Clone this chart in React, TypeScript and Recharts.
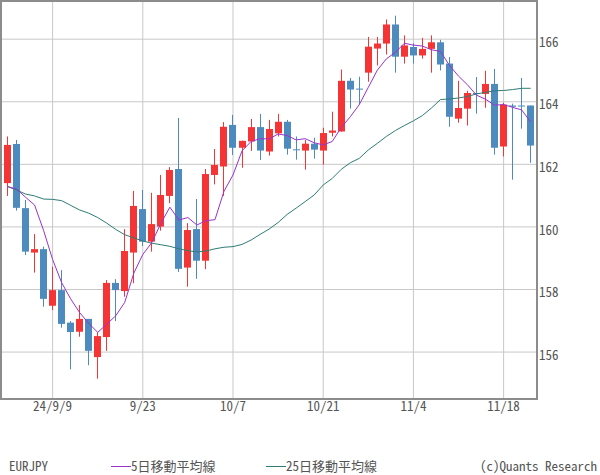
import React from "react";
import {
  ComposedChart,
  Bar,
  Line,
  XAxis,
  YAxis,
  CartesianGrid,
  ReferenceArea,
} from "recharts";

// EURJPY daily candles, 24/9/2 .. 24/11/21
const OPEN = [
  161.40, 162.65, 160.60, 159.18, 159.29, 157.48, 157.98, 156.94, 156.65, 157.06,
  155.84, 156.48, 158.21, 157.95, 159.18, 160.57, 159.53, 160.01, 160.99, 161.85,
  158.70, 159.93, 158.92, 161.66, 161.93, 163.26, 162.53, 162.73, 163.19, 162.41,
  162.99, 163.36, 162.48, 162.44, 162.66, 162.44, 163.01, 163.05, 164.67, 164.42,
  164.93, 165.70, 165.86, 166.47, 165.44, 165.75, 165.48, 165.69, 165.90, 165.22,
  163.46, 163.78, 164.28, 164.25, 164.57, 162.57, 163.88, 163.88, 163.88,
];
const HIGH = [
  162.89, 162.78, 160.86, 159.77, 159.37, 158.73, 158.62, 156.99, 157.50, 157.06,
  156.63, 158.30, 158.33, 159.93, 161.15, 161.18, 161.09, 161.66, 161.91, 163.48,
  160.12, 160.89, 161.85, 162.49, 163.35, 163.58, 162.76, 163.45, 163.61, 163.42,
  163.61, 163.42, 162.89, 162.78, 162.85, 163.17, 163.68, 165.03, 164.76, 164.80,
  166.07, 166.07, 166.63, 166.75, 166.12, 165.87, 166.04, 166.12, 165.98, 165.43,
  164.67, 164.35, 164.79, 164.99, 165.05, 163.97, 163.94, 164.76, 163.88,
];
const LOW = [
  160.99, 160.52, 159.10, 158.54, 157.45, 157.34, 156.78, 155.45, 156.49, 155.58,
  155.15, 156.04, 156.99, 157.77, 158.20, 159.39, 159.21, 159.88, 160.76, 158.56,
  158.09, 158.34, 158.65, 161.36, 160.99, 162.30, 161.89, 162.43, 162.14, 162.28,
  162.89, 162.31, 162.15, 161.83, 162.18, 161.99, 162.89, 163.04, 163.78, 163.91,
  164.64, 165.16, 165.51, 164.93, 165.22, 165.22, 165.38, 164.93, 165.00, 163.20,
  163.33, 163.24, 163.62, 163.81, 162.31, 162.25, 161.51, 163.14, 162.05,
];
const CLOSE = [
  162.62, 160.61, 159.21, 159.29, 157.70, 157.98, 156.90, 156.64, 157.06, 156.04,
  156.51, 158.21, 157.98, 159.23, 160.67, 159.53, 160.09, 161.02, 161.82, 158.66,
  159.90, 158.92, 161.69, 161.98, 163.20, 162.53, 162.75, 163.19, 162.44, 163.13,
  163.36, 162.50, 162.45, 162.66, 162.47, 163.00, 163.08, 164.67, 164.39, 164.39,
  165.76, 165.86, 166.47, 165.44, 165.80, 165.48, 165.69, 165.90, 165.19, 163.52,
  163.80, 164.28, 164.25, 164.57, 162.53, 163.91, 163.84, 163.85, 162.60,
];
const MA5 = [
  161.29, 161.21, 160.95, 160.70, 159.89, 158.96, 158.22, 157.70, 157.26, 156.92,
  156.63, 156.89, 157.16, 157.59, 158.52, 159.12, 159.50, 160.11, 160.63, 160.22,
  160.30, 160.06, 160.20, 160.23, 161.14, 161.66, 162.43, 162.73, 162.82, 162.81,
  162.97, 162.92, 162.78, 162.82, 162.69, 162.62, 162.73, 163.18, 163.52, 163.91,
  164.46, 165.01, 165.37, 165.58, 165.87, 165.81, 165.78, 165.66, 165.61, 165.16,
  164.82, 164.54, 164.21, 164.08, 163.89, 163.91, 163.82, 163.74, 163.35,
];
const MA25 = [
  161.29, 161.18, 161.05, 160.99, 160.89, 160.88, 160.84, 160.69, 160.54, 160.44,
  160.30, 160.12, 159.92, 159.75, 159.65, 159.55, 159.48, 159.43, 159.38, 159.30,
  159.24, 159.20, 159.23, 159.30, 159.35, 159.37, 159.44, 159.58, 159.76, 159.93,
  160.14, 160.40, 160.60, 160.81, 161.02, 161.34, 161.55, 161.84, 162.05, 162.19,
  162.46, 162.67, 162.89, 163.08, 163.24, 163.39, 163.56, 163.80, 164.07, 164.09,
  164.12, 164.17, 164.25, 164.30, 164.35, 164.36, 164.39, 164.43, 164.43,
];

const X_TICKS = [5, 15, 25, 35, 45, 55];
const X_LABELS = ["24/9/9", "9/23", "10/7", "10/21", "11/4", "11/18"];
const Y_TICKS = [156, 158, 160, 162, 164, 166];

const X_DOMAIN: [number, number] = [-0.72, 58.7];
const Y_DOMAIN: [number, number] = [154.5, 167.22];

const UP = "#f53535";
const DOWN = "#4d8bbf";
const MA5_COLOR = "#9933cc";
const MA25_COLOR = "#2e7d74";
const TEXT = "#555555";
const FONT = "'Noto Sans CJK JP', sans-serif";

const data = OPEN.map((open, i) => ({
  i,
  open,
  high: HIGH[i],
  low: LOW[i],
  close: CLOSE[i],
  range: [LOW[i], HIGH[i]],
  ma5: MA5[i],
  ma25: MA25[i],
}));

function Candle(props: any) {
  const { x, y, width, height, payload } = props;
  if (!payload) return null;
  const { open, close, high, low } = payload;
  const top = Math.min(y, y + height);
  const h = Math.abs(height);
  const ratio = h / (high - low || 1);
  const yOf = (v: number) => top + (high - v) * ratio;
  const color = close >= open ? UP : DOWN;
  const cx = Math.floor(x + width / 2) + 0.5;
  const bTop = yOf(Math.max(open, close));
  const bBot = yOf(Math.min(open, close));
  return (
    <g>
      <line x1={cx} x2={cx} y1={top} y2={top + h} stroke={color} strokeWidth={1} />
      <rect x={cx - 3.5} y={bTop} width={7} height={Math.max(1, bBot - bTop)} fill={color} />
    </g>
  );
}

const tickStyle = {
  fill: TEXT,
  fontSize: 13,
  fontFamily: FONT,
  fontFeatureSettings: "'hwid' 1",
};

export default function App() {
  return (
    <div
      style={{
        position: "absolute",
        left: 0,
        top: 0,
        width: 600,
        height: 475,
        background: "#fff",
        fontFamily: FONT,
        color: TEXT,
        fontSize: 13,
        fontFeatureSettings: "'hwid' 1",
      }}
    >
      <ComposedChart
        width={600}
        height={475}
        data={data}
        margin={{ top: 1, right: 0, bottom: 0, left: 1 }}
      >
        <CartesianGrid stroke="#c8c8c8" strokeWidth={1} />
        <XAxis
          type="number"
          dataKey="i"
          domain={X_DOMAIN}
          allowDataOverflow
          ticks={X_TICKS}
          tickFormatter={(v) => X_LABELS[X_TICKS.indexOf(v)] ?? ""}
          tickLine={false}
          axisLine={false}
          tickSize={0}
          tickMargin={3}
          height={76}
          tick={tickStyle}
        />
        <YAxis
          orientation="right"
          domain={Y_DOMAIN}
          allowDataOverflow
          ticks={Y_TICKS}
          tickLine={false}
          axisLine={false}
          tickSize={0}
          tickMargin={2}
          width={63}
          tick={{ ...tickStyle, dy: 3 }}
        />
        <Bar dataKey="range" barSize={7} shape={Candle} isAnimationActive={false} />
        <Line
          type="linear"
          dataKey="ma25"
          stroke={MA25_COLOR}
          strokeWidth={1}
          dot={false}
          activeDot={false}
          isAnimationActive={false}
        />
        <Line
          type="linear"
          dataKey="ma5"
          stroke={MA5_COLOR}
          strokeWidth={1}
          dot={false}
          activeDot={false}
          isAnimationActive={false}
        />
        <ReferenceArea
          x1={X_DOMAIN[0]}
          x2={X_DOMAIN[1]}
          y1={Y_DOMAIN[0]}
          y2={Y_DOMAIN[1]}
          fill="none"
          stroke="#8c8c8c"
          strokeWidth={2}
          ifOverflow="visible"
        />
      </ComposedChart>

      {/* legend row */}
      <div style={{ position: "absolute", top: 457, left: 9, lineHeight: "18px" }}>EURJPY</div>
      <div style={{ position: "absolute", top: 466, left: 111, width: 20, height: 1, background: MA5_COLOR }} />
      <div style={{ position: "absolute", top: 457, left: 131, lineHeight: "18px" }}>5日移動平均線</div>
      <div style={{ position: "absolute", top: 466, left: 266, width: 20, height: 1, background: MA25_COLOR }} />
      <div style={{ position: "absolute", top: 457, left: 286, lineHeight: "18px" }}>25日移動平均線</div>
      <div style={{ position: "absolute", top: 457, right: 3, lineHeight: "18px" }}>(c)Quants Research</div>
    </div>
  );
}
